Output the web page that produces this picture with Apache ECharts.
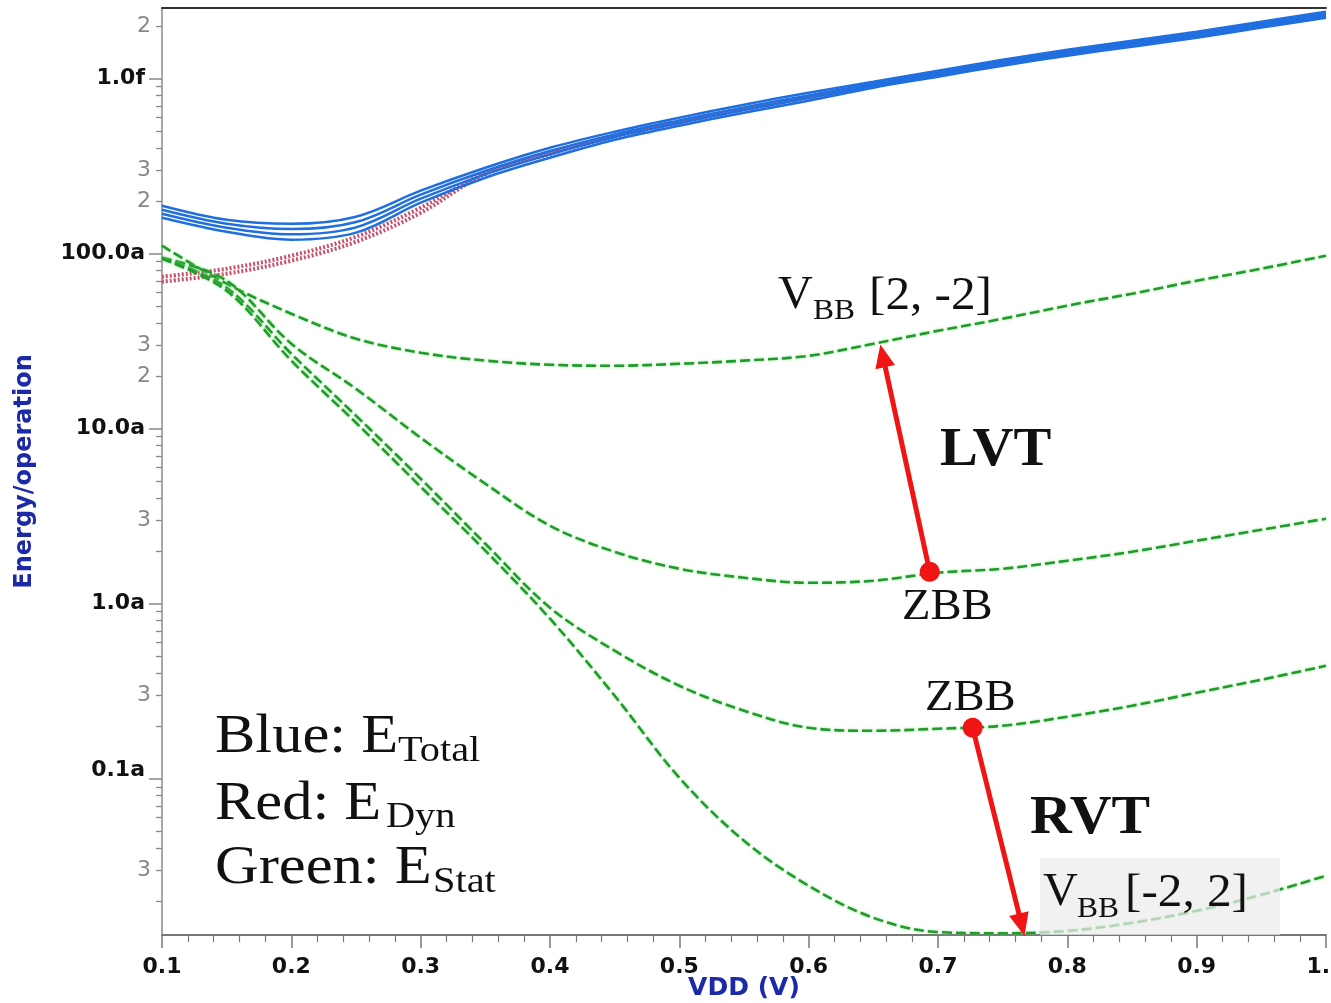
<!DOCTYPE html>
<html><head><meta charset="utf-8">
<script src="https://cdn.jsdelivr.net/npm/echarts@6/dist/echarts.min.js"></script>
<style>html,body{margin:0;padding:0;background:#fff}#c{width:1331px;height:1003px}</style>
</head><body><div id="c"></div>
<script>
// ---- data (energy in atto-joules, VDD in volts) ----
const vdd = [0.1,0.15,0.2,0.25,0.3,0.35,0.4,0.45,0.5,0.55,0.6,0.65,0.7,0.75,0.8,0.85,0.9,0.95,1.0];

const eTotal1 = [188.1,156.4,148.3,162.8,229.1,310.0,403.3,497.8,598.6,710.4,831.2,961.1,1111,1283,1464,1648,1855,2117,2414];
const eTotal2 = [178.4,148.4,138.3,151.7,217.4,296.7,385.9,480.7,578.0,685.9,802.6,936.4,1082,1250,1427,1606,1808,2063,2352];
const eTotal3 = [169.3,140.8,129.0,141.4,206.2,284.0,369.5,464.1,558.0,662.3,774.9,912.0,1054,1218,1390,1564,1761,2009,2291];
const eTotal4 = [160.6,133.6,120.2,131.9,195.6,271.8,353.6,448.1,538.8,639.5,748.2,888.6,1027,1187,1354,1524,1715,1958,2232];

const eDyn1 = [73.9,82.1,97.4,125.0,183.0,290.3,377.6,472.3,567.9,674.0,788.6,924.1,1068,1234,1408,1585,1784,2036,2321];
const eDyn2 = [69.2,76.9,91.2,117.0,171.3,285.0,371.0,465.0,560.0,665.0,778.0,912.0,1055,1219,1391,1566,1763,2012,2294];

const eStatLvtVbb = [111.1,67.4,45.4,32.7,27.2,24.5,23.2,22.9,23.5,24.5,26.1,30.6,36.3,42.5,50.5,59.1,70.1,82.1,97.4];
const eStatLvtZbb = [94.9,70.1,30.6,16.9,8.88,4.85,2.79,1.98,1.585,1.408,1.318,1.353,1.504,1.585,1.761,1.982,2.291,2.648,3.06];
const eStatRvtZbb = [94.9,63.9,26.8,11.87,5.18,2.203,0.949,0.539,0.340,0.2446,0.1956,0.1880,0.1931,0.2009,0.2261,0.2614,0.3101,0.3679,0.4420];
const eStatRvtVbb = [93.6,61.4,24.5,10.82,4.66,2.009,0.821,0.298,0.1013,0.04422,0.02446,0.01606,0.01330,0.01310,0.01350,0.01503,0.01760,0.02173,0.02791];

// y tick labels
const decadeVals = [1000,100,10,1,0.1];
const decadeLabels = ['1.0f','100.0a','10.0a','1.0a','0.1a'];
const minorLabelVals = [2000,300,200,30,20,3,0.3,0.03];
const minorLabelText = ['2','3','2','3','2','3','3','3'];
const yMin = 0.0128, yMax = 2535;

// annotation arrows (data coordinates: [VDD, energy])
const lvtArrow = [[0.6936,1.523],[0.6573,26.1]];
const rvtArrow = [[0.7268,0.1956],[0.7647,0.01465]];

// ---- build ----
const L = v => Math.log10(v);
const pts = arr => vdd.map((x,i)=>[x, L(arr[i])]);
const minorTickVals = [];
for (let k=-2;k<=3;k++) for (let m=2;m<=9;m++){ const v=m*Math.pow(10,k); if(v>yMin&&v<yMax) minorTickVals.push(L(v)); }

const lbl = (v) => {
  for (let i=0;i<decadeVals.length;i++) if (Math.abs(L(decadeVals[i])-v)<1e-6) return decadeLabels[i]==='0.1a' ? '{up|0.1a}' : decadeLabels[i];
  return '';
};
const mlbl = (v) => {
  for (let i=0;i<minorLabelVals.length;i++) if (Math.abs(L(minorLabelVals[i])-v)<1e-6) return minorLabelText[i];
  return '';
};

const blueStyle = {color:'#1f6fe0', width:2.5};
const greenStyle = {color:'#229a2c', width:2.6, type:[10,4], shadowColor:'rgba(110,225,110,0.7)', shadowBlur:3};
const redStyle = {color:'#c8506a', width:4, type:[2,2]};

function lineSeries(name, arr, style, z, extra){
  return Object.assign({type:'line', name, data:pts(arr), showSymbol:false, smooth:0.35, lineStyle:style, z, silent:true, emphasis:{disabled:true}}, extra||{});
}
function arrowLine(a){
  return {silent:true, symbol:['circle','triangle'], symbolSize:[20,23], label:{show:false},
    lineStyle:{color:'#f01414', width:5, type:'solid'}, emphasis:{disabled:true},
    itemStyle:{color:'#f01414'},
    data:[[{coord:[a[0][0],L(a[0][1])]},{coord:[a[1][0],L(a[1][1])]}]]};
}

const serif = 'Liberation Serif';
function txt(x,y,text,size,opt){
  opt = opt||{};
  return {type:'text', x, y, scaleX: opt.sx||1, z:100,
    style:{text, fontSize:size, fontFamily:serif, fontWeight:opt.bold?'bold':'normal', fill:'#111', verticalAlign:'middle', align:'left'}};
}

const option = {
  animation:false,
  backgroundColor:'#fff',
  grid:{left:162, right:5, top:8, bottom:68, containLabel:false, outerBoundsMode:'none'},
  xAxis:[{
    type:'value', min:0.1, max:1.0, interval:0.1,
    axisLine:{onZero:false, lineStyle:{color:'#777', width:2}},
    axisTick:{length:13, lineStyle:{color:'#777', width:1.5}},
    minorTick:{show:true, splitNumber:5, length:7, lineStyle:{color:'#777', width:1.2}},
    axisLabel:{formatter:v=>v.toFixed(1), fontFamily:'DejaVu Sans', fontWeight:'bold', fontSize:22, color:'#111', margin:21, hideOverlap:false},
    splitLine:{show:false}, minorSplitLine:{show:false},
    name:'VDD (V)', nameLocation:'middle', nameGap:41, nameMoveOverlap:false,
    nameTextStyle:{color:'#1c2aa8', fontWeight:'bold', fontSize:25, fontFamily:'DejaVu Sans', verticalAlign:'top'}
  },{
    type:'value', position:'top', min:0.1, max:1.0,
    axisLine:{show:true, onZero:false, lineStyle:{color:'#333', width:2}},
    axisTick:{show:false}, axisLabel:{show:false}, splitLine:{show:false}
  }],
  yAxis:[{
    type:'value', min:L(yMin), max:L(yMax), position:'left',
    axisLine:{show:true, onZero:false, lineStyle:{color:'#8a8a8a', width:1.5}},
    axisTick:{show:true, customValues:decadeVals.map(L), length:13, lineStyle:{color:'#888', width:1.5}},
    axisLabel:{customValues:decadeVals.map(L), formatter:lbl, fontFamily:'DejaVu Sans', fontWeight:'bold', fontSize:22, color:'#111', margin:17,
      rich:{up:{fontFamily:'DejaVu Sans', fontWeight:'bold', fontSize:22, color:'#111', padding:[0,0,16,0]}}},
    splitLine:{show:false},
    name:'Energy/operation', nameLocation:'middle', nameGap:125, nameMoveOverlap:false,
    nameTextStyle:{color:'#1c2aa8', fontWeight:'bold', fontSize:24, fontFamily:'DejaVu Sans'}
  },{
    type:'value', min:L(yMin), max:L(yMax), position:'left',
    axisLine:{show:false, onZero:false},
    axisTick:{show:true, customValues:minorTickVals, length:6, lineStyle:{color:'#888', width:1.3}},
    axisLabel:{customValues:minorLabelVals.map(L), formatter:mlbl, fontFamily:'DejaVu Sans', fontSize:22, color:'#888', margin:11},
    splitLine:{show:false}
  }],
  series:[
    lineSeries('Dyn1', eDyn1, redStyle, 2),
    lineSeries('Dyn2', eDyn2, redStyle, 2),
    lineSeries('Stat LVT VBB', eStatLvtVbb, greenStyle, 3),
    lineSeries('Stat LVT ZBB', eStatLvtZbb, greenStyle, 3, {markLine:arrowLine(lvtArrow)}),
    lineSeries('Stat RVT ZBB', eStatRvtZbb, greenStyle, 3, {markLine:arrowLine(rvtArrow)}),
    lineSeries('Stat RVT VBB', eStatRvtVbb, greenStyle, 3),
    lineSeries('Total1', eTotal1, blueStyle, 4),
    lineSeries('Total2', eTotal2, blueStyle, 4),
    lineSeries('Total3', eTotal3, blueStyle, 4),
    lineSeries('Total4', eTotal4, blueStyle, 4)
  ],
  graphic:[
    {type:'rect', z:50, shape:{x:1040, y:858, width:240, height:77}, style:{fill:'rgba(236,236,236,0.72)'}},
    txt(778,296,'V',46,{sx:1.05}), txt(813,311,'BB',30,{sx:1.05}), txt(869,297,'[2, -2]',46,{sx:1.07}),
    txt(1043,893,'V',46,{sx:1.05}), txt(1077,909,'BB',30,{sx:1.05}), txt(1125,894,'[-2, 2]',46,{sx:1.07}),
    txt(940,451,'LVT',54,{bold:true, sx:1.05}),
    txt(1030,819,'RVT',54,{bold:true, sx:1.07}),
    txt(902,607,'ZBB',44,{sx:1.06}),
    txt(925,698,'ZBB',44,{sx:1.06}),
    txt(215,738,'Blue: E',54,{sx:1.12}), txt(398,752,'Total',36,{sx:1.12}),
    txt(215,805,'Red: E',54,{sx:1.12}), txt(386,818,'Dyn',36,{sx:1.12}),
    txt(215,869,'Green: E',54,{sx:1.12}), txt(433,883,'Stat',36,{sx:1.12})
  ]
};
const chart = echarts.init(document.getElementById('c'), null, {renderer:'canvas'});
chart.setOption(option);
</script></body></html>
